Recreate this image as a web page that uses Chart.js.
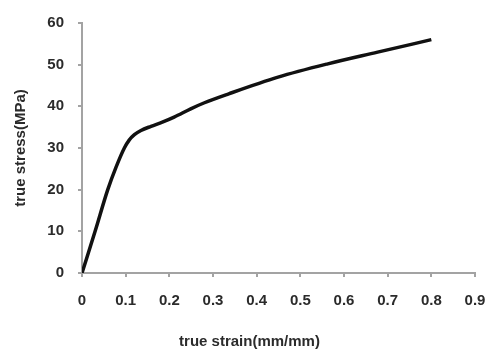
<!DOCTYPE html>
<html>
<head>
<meta charset="utf-8">
<script src="https://cdn.jsdelivr.net/npm/chart.js@4/dist/chart.umd.min.js"></script>
<style>
  html, body { margin: 0; padding: 0; background: #fff; }
  #wrap { width: 487px; height: 354px; }
</style>
</head>
<body>
<div id="wrap"><canvas id="curva"></canvas></div>
<script>
// deformación verdadera (mm/mm) y esfuerzo verdadero (MPa)
const strain = [0, 0.03, 0.059, 0.078, 0.097, 0.108, 0.12, 0.135, 0.158, 0.184, 0.211, 0.249, 0.279, 0.336, 0.449, 0.563, 0.677, 0.8];
const stress = [0, 10, 20, 25.4, 30, 31.9, 33.2, 34.2, 35.2, 36.2, 37.4, 39.4, 40.8, 43.0, 47.0, 50.2, 53.0, 56];

const xTitle = 'true strain(mm/mm)';
const yTitle = 'true stress(MPa)';

const axisGray = '#a3a3a3';
const textColor = '#2b2b2b';
const fuente = { family: '"Liberation Sans", Arial, sans-serif', size: 15, weight: 'bold' };

const puntos = strain.map((s, i) => ({ x: s, y: stress[i] }));

const ctx = document.getElementById('curva').getContext('2d');
const chart = new Chart(ctx, {
    type: 'line',
    data: {
        datasets: [{
            data: puntos,
            borderColor: '#111',
            borderWidth: 3.5,
            pointRadius: 0,
            fill: false,
            cubicInterpolationMode: 'monotone'
        }]
    },
    options: {
        responsive: true,
        maintainAspectRatio: false,
        animation: false,
        layout: { padding: { left: 24, right: 12, top: 23, bottom: 0 } },
        plugins: {
            legend: { display: false },
            tooltip: { enabled: false },
            title: {
                display: true,
                position: 'bottom',
                text: xTitle,
                color: textColor,
                font: fuente,
                padding: { top: 0, bottom: 3 }
            }
        },
        scales: {
            x: {
                type: 'linear',
                min: 0,
                max: 0.9,
                afterFit: s => { s.height = 60; s.paddingRight = 0; s.paddingLeft = 0; },
                border: { color: axisGray, width: 2 },
                grid: { drawOnChartArea: false, drawTicks: true, tickLength: 4, color: axisGray, lineWidth: 2 },
                ticks: {
                    stepSize: 0.1,
                    padding: 15,
                    color: textColor,
                    font: fuente,
                    maxRotation: 0,
                    callback: v => String(+v.toFixed(1))
                }
            },
            y: {
                min: 0,
                max: 60,
                afterFit: s => { s.width = 58; },
                border: { color: axisGray, width: 2 },
                grid: { drawOnChartArea: false, drawTicks: true, tickLength: 4, color: axisGray, lineWidth: 2 },
                ticks: {
                    stepSize: 10,
                    padding: 14,
                    color: textColor,
                    font: fuente
                },
                title: {
                    display: true,
                    text: yTitle,
                    color: textColor,
                    font: fuente,
                    padding: { top: -12, bottom: 0 }
                }
            }
        }
    }
});
</script>
</body>
</html>
